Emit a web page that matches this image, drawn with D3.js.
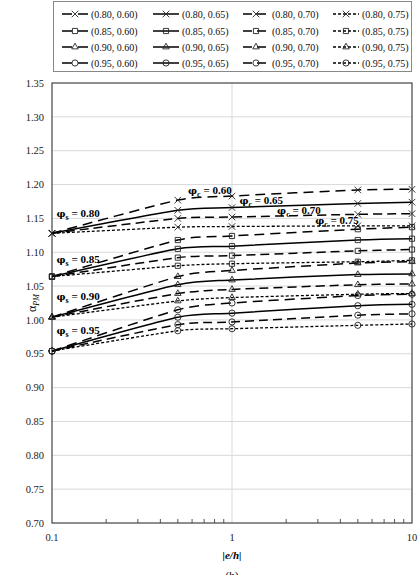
<!DOCTYPE html>
<html>
<head>
<meta charset="utf-8">
<script src="https://cdn.jsdelivr.net/npm/d3@7"></script>
<style>
  body { margin: 0; background: #fff; }
  svg { display: block; font-family: "Liberation Serif", "DejaVu Serif", serif; }
</style>
</head>
<body>
<div class="chart"></div>
<script>
// |e/h| values where the curves were computed
var eh = [0.1, 0.5, 1, 5, 10];
var phiS = ["0.80", "0.85", "0.90", "0.95"];
var phiC = ["0.60", "0.65", "0.70", "0.75"];

// alpha_PM, one row per phi_c (0.60, 0.65, 0.70, 0.75)
var alpha080 = [
  [1.128, 1.177, 1.183, 1.192, 1.193],
  [1.128, 1.162, 1.166, 1.172, 1.174],
  [1.128, 1.150, 1.152, 1.156, 1.157],
  [1.128, 1.137, 1.138, 1.139, 1.139]
];
var alpha085 = [
  [1.064, 1.118, 1.124, 1.134, 1.137],
  [1.064, 1.105, 1.109, 1.118, 1.120],
  [1.064, 1.092, 1.095, 1.102, 1.104],
  [1.064, 1.080, 1.083, 1.086, 1.088]
];
var alpha090 = [
  [1.004, 1.064, 1.073, 1.084, 1.086],
  [1.004, 1.052, 1.059, 1.067, 1.068],
  [1.004, 1.039, 1.045, 1.052, 1.053],
  [1.004, 1.028, 1.033, 1.038, 1.039]
];
var alpha095 = [
  [0.954, 1.015, 1.025, 1.036, 1.038],
  [0.954, 1.004, 1.010, 1.021, 1.023],
  [0.954, 0.993, 0.997, 1.007, 1.009],
  [0.954, 0.984, 0.987, 0.992, 0.994]
];
var yTicks = [0.70, 0.75, 0.80, 0.85, 0.90, 0.95, 1.00, 1.05, 1.10, 1.15, 1.20, 1.25, 1.30, 1.35];
var xTicks = [0.1, 1, 10];

// label anchors in data units
var sLabels = [
  {x: 0.106, y: 1.152, t: "0.80"},
  {x: 0.106, y: 1.084, t: "0.85"},
  {x: 0.106, y: 1.029, t: "0.90"},
  {x: 0.106, y: 0.979, t: "0.95"}
];
var cLabels = [
  {x: 0.57, y: 1.186, t: "0.60"},
  {x: 1.10, y: 1.171, t: "0.65"},
  {x: 1.78, y: 1.156, t: "0.70"},
  {x: 2.90, y: 1.141, t: "0.75"}
];

var allAlpha = [alpha080, alpha085, alpha090, alpha095];

var margin = {top: 83, right: 7, bottom: 52, left: 52};
var W = 419, H = 575;
var width = W - margin.left - margin.right,
    height = H - margin.top - margin.bottom;

var svg = d3.select(".chart").append("svg")
  .attr("width", W).attr("height", H);

var chart = svg.append("g")
  .attr("transform", "translate(" + margin.left + "," + margin.top + ")");

var x = d3.scaleLog().domain([0.1, 10]).range([0, width]);
var y = d3.scaleLinear().domain([0.70, 1.35]).range([height, 0]);

// styles per phi_c
var dashes = ["10,6", null, "9,5", "3,2"];
var symS = [
  d3.symbolTimes || d3.symbolCross,
  d3.symbolSquare2 || d3.symbolSquare,
  d3.symbolTriangle2 || d3.symbolTriangle,
  d3.symbolCircle
];
var symSize = [30, 34, 30, 30];

// gridlines
chart.append("g").selectAll("line")
  .data(yTicks.slice(1, -1))
  .enter().append("line")
  .attr("x1", 0).attr("x2", width)
  .attr("y1", function(d) { return y(d); })
  .attr("y2", function(d) { return y(d); })
  .attr("stroke", "#d9d9d9").attr("stroke-width", 1);

chart.append("line")
  .attr("x1", x(1)).attr("x2", x(1))
  .attr("y1", 0).attr("y2", height)
  .attr("stroke", "#d9d9d9").attr("stroke-width", 1);

// y tick labels
chart.append("g").selectAll("text")
  .data(yTicks)
  .enter().append("text")
  .attr("x", -8)
  .attr("y", function(d) { return y(d); })
  .attr("dy", "0.35em")
  .attr("text-anchor", "end")
  .attr("font-size", 10.5)
  .attr("fill", "#222")
  .text(function(d) { return d3.format(".2f")(d); });

// x tick labels
chart.append("g").selectAll("text")
  .data(xTicks)
  .enter().append("text")
  .attr("x", function(d) { return x(d); })
  .attr("y", height + 18)
  .attr("text-anchor", "middle")
  .attr("font-size", 10.5)
  .attr("fill", "#222")
  .text(function(d) { return d; });

// minor ticks on x axis (inside)
var minor = x.ticks().filter(function(d) { return xTicks.indexOf(d) < 0; });
chart.append("g").selectAll("line")
  .data(minor)
  .enter().append("line")
  .attr("x1", function(d) { return x(d); })
  .attr("x2", function(d) { return x(d); })
  .attr("y1", height).attr("y2", height - 4)
  .attr("stroke", "#555").attr("stroke-width", 1);

// frame
chart.append("rect")
  .attr("x", 0).attr("y", 0)
  .attr("width", width).attr("height", height)
  .attr("fill", "none")
  .attr("stroke", "#444").attr("stroke-width", 1.2);

var line = d3.line()
  .x(function(d) { return x(d[0]); })
  .y(function(d) { return y(d[1]); })
  .curve(d3.curveCardinal.tension(0.35));

allAlpha.forEach(function(group, si) {
  group.forEach(function(vals, ci) {
    var pts = eh.map(function(e, i) { return [e, vals[i]]; });
    chart.append("path")
      .datum(pts)
      .attr("d", line)
      .attr("fill", "none")
      .attr("stroke", "#000")
      .attr("stroke-width", ci === 3 ? 1.3 : 1.5)
      .attr("stroke-dasharray", dashes[ci]);
    chart.append("g").selectAll("path")
      .data(pts)
      .enter().append("path")
      .attr("transform", function(d) { return "translate(" + x(d[0]) + "," + y(d[1]) + ")"; })
      .attr("d", d3.symbol().type(symS[si]).size(symSize[si]))
      .attr("fill", "none")
      .attr("stroke", "#222")
      .attr("stroke-width", 0.9);
  });
});

// annotations
function phiLabel(sel, sub, val) {
  sel.append("tspan").attr("font-family", "DejaVu Serif").attr("font-size", 10).text("\u03C6");
  sel.append("tspan").attr("font-size", 8).attr("dy", 3).text(sub);
  sel.append("tspan").attr("dy", -3).text(" = " + val);
}
sLabels.forEach(function(d) {
  var t = chart.append("text")
    .attr("x", x(d.x)).attr("y", y(d.y))
    .attr("fill", "#000")
    .attr("font-size", 11).attr("font-weight", "bold");
  phiLabel(t, "s", d.t);
});
cLabels.forEach(function(d) {
  var t = chart.append("text")
    .attr("x", x(d.x)).attr("y", y(d.y))
    .attr("fill", "#000")
    .attr("font-size", 11).attr("font-weight", "bold");
  phiLabel(t, "c", d.t);
});

// axis titles
var yl = svg.append("text")
  .attr("transform", "translate(36," + (margin.top + height / 2) + ") rotate(-90)")
  .attr("text-anchor", "middle")
  .attr("font-size", 12);
yl.append("tspan").text("\u03B1");
yl.append("tspan").attr("font-size", 8).attr("font-style", "italic").attr("dy", 3).text("PM");

svg.append("text")
  .attr("x", margin.left + x(1)).attr("y", margin.top + height + 36)
  .attr("text-anchor", "middle")
  .attr("font-size", 11)
  .attr("font-style", "italic").attr("font-weight", "bold")
  .text("|e/h|");

svg.append("text")
  .attr("x", margin.left + x(1)).attr("y", H + 4)
  .attr("text-anchor", "middle")
  .attr("font-size", 11)
  .text("(b)");

// legend
var legend = svg.append("g");
legend.append("rect")
  .attr("x", 53.5).attr("y", 1.5)
  .attr("width", 358).attr("height", 70)
  .attr("fill", "#fff")
  .attr("stroke", "#888").attr("stroke-width", 1);

var colX = [62, 153, 243, 333], rowY = [14, 31, 47, 63], sampleW = 26;
phiS.forEach(function(s, si) {
  phiC.forEach(function(c, ci) {
    var g = legend.append("g")
      .attr("transform", "translate(" + colX[ci] + "," + rowY[si] + ")");
    g.append("line")
      .attr("x1", 0).attr("x2", sampleW).attr("y1", 0).attr("y2", 0)
      .attr("stroke", "#000")
      .attr("stroke-width", ci === 3 ? 1.3 : 1.5)
      .attr("stroke-dasharray", dashes[ci]);
    g.append("path")
      .attr("transform", "translate(" + sampleW / 2 + ",0)")
      .attr("d", d3.symbol().type(symS[si]).size(symSize[si]))
      .attr("fill", "none").attr("stroke", "#222").attr("stroke-width", 0.9);
    g.append("text")
      .attr("x", sampleW + 3).attr("dy", "0.35em")
      .attr("font-size", 10)
      .attr("fill", "#111")
      .text("(" + s + ", " + c + ")");
  });
});
</script>
</body>
</html>
